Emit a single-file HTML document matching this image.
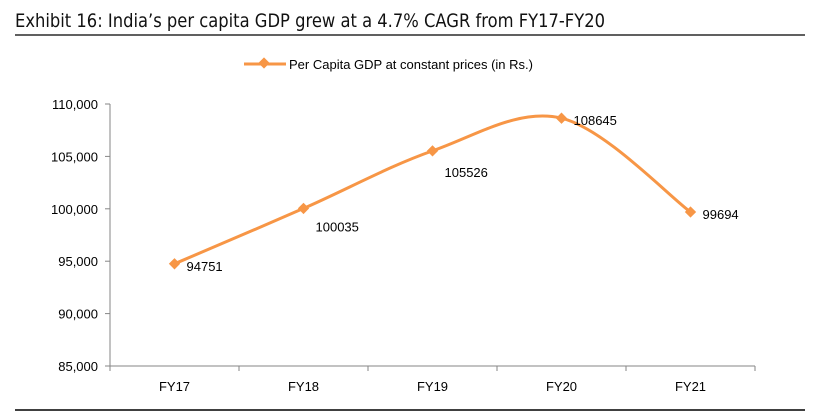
<!DOCTYPE html>
<html><head><meta charset="utf-8"><style>
body{margin:0;background:#fff;width:831px;height:413px;overflow:hidden;font-family:"Liberation Sans",sans-serif}
</style></head><body>
<svg width="831" height="413" xmlns="http://www.w3.org/2000/svg">
<text x="15" y="27" font-size="19" fill="#111" style="font-family:'DejaVu Sans','Liberation Sans',sans-serif" textLength="590" lengthAdjust="spacingAndGlyphs">Exhibit 16: India’s per capita GDP grew at a 4.7% CAGR from FY17-FY20</text>
<line x1="15" y1="35" x2="805" y2="35" stroke="#000" stroke-width="1.2"/>
<line x1="15" y1="410" x2="805" y2="410" stroke="#000" stroke-width="1.5"/>
<g>
<line x1="244" y1="64" x2="286" y2="64" stroke="#F79646" stroke-width="3"/>
<rect x="260" y="59" width="8" height="8" fill="#F79646" transform="rotate(45 264 63)"/>
<text x="289" y="69" font-size="13" fill="#000">Per Capita GDP at constant prices (in Rs.)</text>
</g>
<g id="axes"></g><g id="series"></g>
</svg>
<script>
const categories=["FY17","FY18","FY19","FY20","FY21"];
const values=[94751,100035,105526,108645,99694];
const yTicks=[85000,90000,95000,100000,105000,110000];
const labelDy=[2,18,21,2,2];
const x0=110,bw=129,yTop=104,yBot=366,yMin=85000,yMax=110000;
const X=i=>x0+bw*(i+0.5);
const Y=v=>yBot-(v-yMin)/(yMax-yMin)*(yBot-yTop);
const NS="http://www.w3.org/2000/svg";
function mk(t,a,p){const e=document.createElementNS(NS,t);for(const k in a)e.setAttribute(k,a[k]);p.appendChild(e);return e;}
const ax=document.getElementById('axes'),se=document.getElementById('series');
const ya=mk('line',{x1:x0,y1:yTop,x2:x0,y2:yBot,stroke:'#868686'},ax);


yTicks.forEach(v=>{
 mk('line',{x1:x0-5,y1:Y(v),x2:x0,y2:Y(v),stroke:'#868686'},ax);
 const t=mk('text',{x:x0-12,y:Y(v)+5,'font-size':13,'text-anchor':'end',fill:'#000'},ax);
 t.textContent=v.toLocaleString('en-US');
 
 
});
const xa=mk('line',{x1:x0,y1:yBot,x2:x0+bw*categories.length,y2:yBot,stroke:'#868686'},ax);


categories.forEach((c,i)=>{
 mk('line',{x1:x0+bw*i,y1:yBot,x2:x0+bw*i,y2:yBot+5,stroke:'#868686'},ax);
 const t=mk('text',{x:X(i),y:yBot+25,'font-size':13,'text-anchor':'middle',fill:'#000'},ax);
 t.textContent=c;
 
 
});
mk('line',{x1:x0+bw*5,y1:yBot,x2:x0+bw*5,y2:yBot+5,stroke:'#868686'},ax);
const pts=values.map((v,i)=>[X(i),Y(v)]);
let d=`M${pts[0][0]},${pts[0][1]}`;const k=1/6;
for(let i=0;i<pts.length-1;i++){
 const p0=pts[Math.max(i-1,0)],p1=pts[i],p2=pts[i+1],p3=pts[Math.min(i+2,pts.length-1)];
 d+=` C${p1[0]+(p2[0]-p0[0])*k},${p1[1]+(p2[1]-p0[1])*k} ${p2[0]-(p3[0]-p1[0])*k},${p2[1]-(p3[1]-p1[1])*k} ${p2[0]},${p2[1]}`;
}
const ln=mk('path',{d:d,fill:'none',stroke:'#F79646','stroke-width':3},se);


pts.forEach((p,i)=>{
 const m=mk('rect',{x:p[0]-4,y:p[1]-4,width:8,height:8,fill:'#F79646',transform:`rotate(45 ${p[0]} ${p[1]})`},se);
 
 
 const t=mk('text',{x:p[0]+12,y:p[1]+labelDy[i]+5,'font-size':13,fill:'#000'},se);
 t.textContent=values[i];
 
 
});
</script>
</body></html>
